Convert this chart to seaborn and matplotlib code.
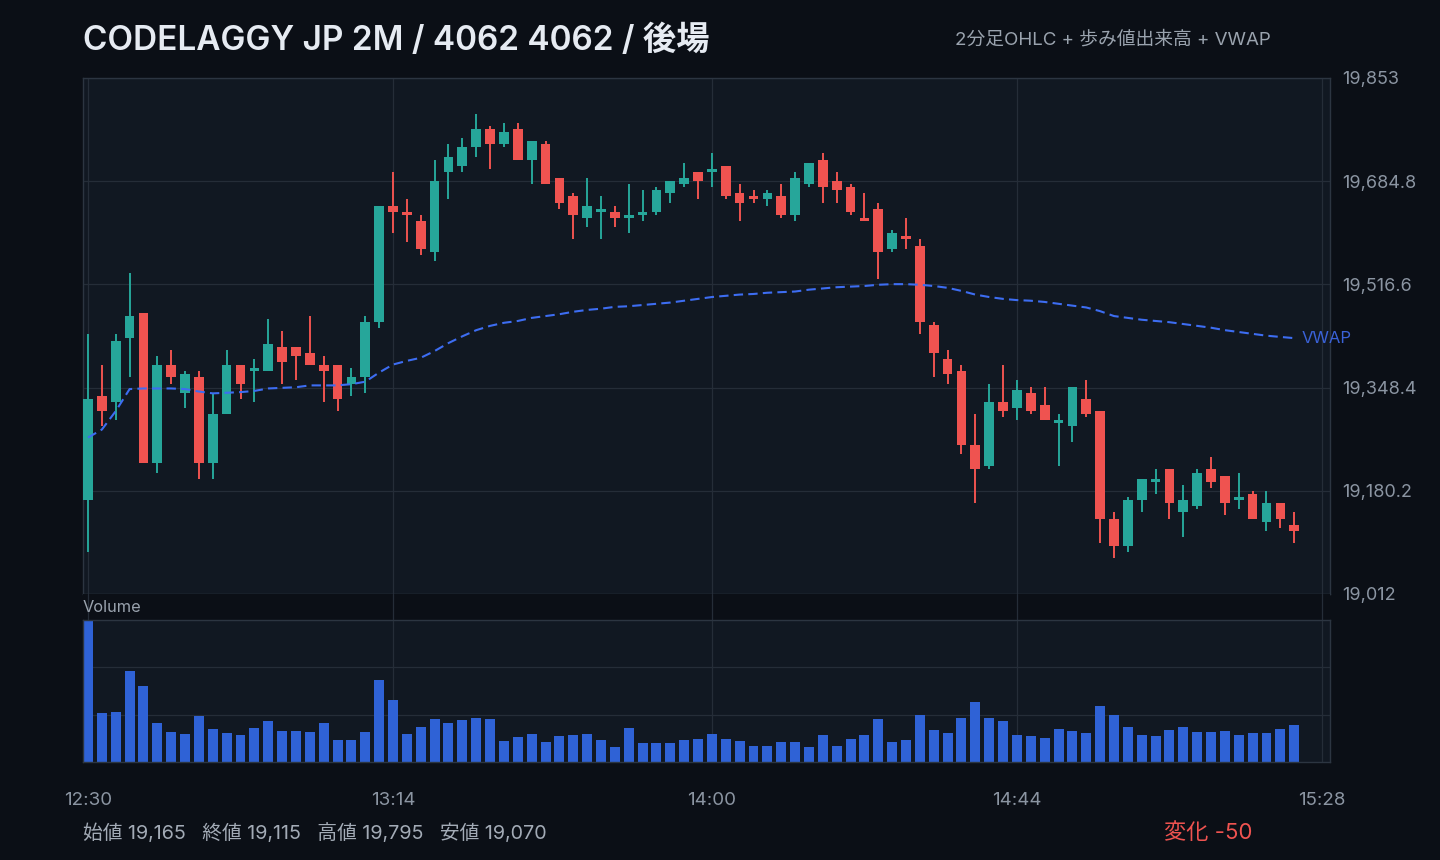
import numpy as np
import pandas as pd
import seaborn as sns
import matplotlib.pyplot as plt
from matplotlib.ticker import FuncFormatter

# 後場 2分足 (12:30〜) — 始値 / 高値 / 安値 / 終値
opens = [19165, 19335, 19325, 19430, 19470, 19225, 19385, 19340, 19365, 19225,
         19305, 19385, 19375, 19375, 19415, 19415, 19405, 19385, 19385, 19355,
         19365, 19455, 19645, 19635, 19620, 19570, 19700, 19710, 19740, 19770,
         19745, 19770, 19720, 19745, 19690, 19660, 19625, 19635, 19635, 19625,
         19630, 19635, 19665, 19680, 19700, 19700, 19710, 19665, 19660, 19655,
         19660, 19630, 19680, 19720, 19685, 19675, 19625, 19640, 19575, 19595,
         19580, 19450, 19395, 19375, 19255, 19220, 19325, 19315, 19340, 19320,
         19290, 19285, 19330, 19310, 19135, 19090, 19165, 19195, 19215, 19145,
         19155, 19215, 19205, 19165, 19175, 19130, 19160, 19125]
highs = [19435, 19385, 19435, 19535, 19470, 19400, 19410, 19375, 19375, 19340,
         19410, 19385, 19395, 19460, 19440, 19415, 19465, 19400, 19385, 19380,
         19465, 19645, 19700, 19655, 19630, 19720, 19745, 19755, 19795, 19775,
         19780, 19780, 19750, 19750, 19690, 19665, 19690, 19660, 19645, 19680,
         19670, 19675, 19685, 19715, 19700, 19730, 19710, 19680, 19670, 19670,
         19680, 19700, 19715, 19730, 19700, 19680, 19665, 19650, 19605, 19625,
         19590, 19455, 19410, 19385, 19305, 19355, 19385, 19360, 19350, 19350,
         19305, 19350, 19360, 19310, 19145, 19170, 19200, 19215, 19215, 19190,
         19215, 19235, 19205, 19210, 19180, 19180, 19160, 19145]
lows = [19080, 19285, 19295, 19365, 19225, 19210, 19355, 19315, 19200, 19200,
        19305, 19330, 19325, 19375, 19355, 19360, 19385, 19325, 19310, 19335,
        19340, 19445, 19600, 19585, 19565, 19555, 19655, 19700, 19725, 19705,
        19740, 19720, 19680, 19680, 19640, 19590, 19610, 19590, 19610, 19600,
        19620, 19630, 19650, 19675, 19655, 19675, 19655, 19620, 19650, 19645,
        19625, 19620, 19675, 19650, 19650, 19630, 19620, 19525, 19570, 19575,
        19435, 19365, 19355, 19240, 19160, 19215, 19300, 19295, 19305, 19295,
        19220, 19260, 19300, 19095, 19070, 19080, 19145, 19175, 19135, 19105,
        19150, 19185, 19140, 19150, 19135, 19115, 19120, 19095]
closes = [19330, 19310, 19425, 19465, 19225, 19385, 19365, 19370, 19225, 19305,
          19385, 19355, 19380, 19420, 19390, 19400, 19385, 19375, 19330, 19365,
          19455, 19645, 19635, 19630, 19575, 19685, 19725, 19740, 19770, 19745,
          19765, 19720, 19750, 19680, 19650, 19630, 19645, 19640, 19625, 19630,
          19635, 19670, 19685, 19690, 19685, 19705, 19660, 19650, 19655, 19665,
          19630, 19690, 19715, 19675, 19670, 19635, 19620, 19570, 19600, 19590,
          19455, 19405, 19370, 19255, 19215, 19325, 19310, 19345, 19310, 19295,
          19295, 19350, 19305, 19135, 19090, 19165, 19200, 19200, 19160, 19165,
          19210, 19195, 19160, 19170, 19135, 19160, 19135, 19115]

# 歩み値出来高 (百株)
volumes = [4200, 1460, 1490, 2700, 2260, 1140, 900, 840, 1370, 990,
           870, 790, 1020, 1200, 930, 930, 900, 1140, 640, 640,
           900, 2430, 1840, 840, 1050, 1260, 1140, 1230, 1290, 1260,
           610, 730, 840, 580, 760, 790, 840, 640, 430, 1020,
           550, 550, 550, 640, 670, 840, 670, 610, 460, 460,
           580, 580, 430, 810, 460, 670, 790, 1260, 580, 640,
           1400, 960, 870, 1310, 1760, 1310, 1200, 790, 760, 700,
           990, 930, 870, 1670, 1400, 1050, 790, 760, 960, 1050,
           900, 900, 930, 790, 870, 870, 990, 1080]

vwap = [19267, 19280, 19310, 19346, 19347, 19347, 19347, 19346, 19342, 19339,
        19340, 19341, 19343, 19347, 19348, 19349, 19352, 19352, 19352, 19354,
        19358, 19373, 19386, 19392, 19397, 19408, 19421, 19432, 19442, 19449,
        19454, 19457, 19462, 19465, 19468, 19472, 19475, 19477, 19480, 19481,
        19483, 19485, 19487, 19490, 19493, 19496, 19498, 19500, 19501, 19503,
        19504, 19505, 19508, 19510, 19512, 19513, 19514, 19516, 19517, 19517,
        19516, 19514, 19511, 19506, 19500, 19496, 19493, 19491, 19490, 19488,
        19485, 19482, 19479, 19473, 19465, 19462, 19459, 19457, 19455, 19452,
        19449, 19446, 19442, 19439, 19436, 19433, 19431, 19429]

session_start = "12:30"
bar_minutes = 2
xtick_labels = ["12:30", "13:14", "14:00", "14:44", "15:28"]

title = "CODELAGGY JP 2M / 4062 4062 / 後場"
subtitle = "2分足OHLC + 歩み値出来高 + VWAP"

# 色
BG = "#0b0f16"
PANEL = "#111822"
GRID = "#252d38"
EDGE = "#2c3541"
UP = "#26a69a"
DOWN = "#ef5350"
VOL = "#2f62d6"
VW = "#3d6df2"
TXT = "#e6ebf2"
SUB = "#9aa3ae"
TICK = "#8b95a2"

sns.set_theme(style="dark", rc={
    "figure.facecolor": BG,
    "axes.facecolor": PANEL,
    "axes.edgecolor": EDGE,
    "grid.color": GRID,
    "text.color": TXT,
    "xtick.color": TICK,
    "ytick.color": TICK,
})
plt.rcParams["font.family"] = ["Inter", "Noto Sans CJK JP", "DejaVu Sans"]


def to_min(s):
    h, m = s.split(":")
    return int(h) * 60 + int(m)


df = pd.DataFrame({"open": opens, "high": highs, "low": lows,
                   "close": closes, "volume": volumes, "vwap": vwap})
df["pos"] = np.arange(len(df))
df["color"] = np.where(df["close"] >= df["open"], UP, DOWN)
xticks = [(to_min(t) - to_min(session_start)) / bar_minutes for t in xtick_labels]

hi = df["high"].max()
lo = df["low"].min()
pad = (hi - lo) * 0.08

W, H = 1440, 860
fig = plt.figure(figsize=(14.4, 8.6), dpi=100)
ax = fig.add_axes([83 / W, 1 - 594 / H, 1247 / W, 516 / H])
gap = fig.add_axes([83 / W, 1 - 620 / H, 1247 / W, 26 / H], sharex=ax)
axv = fig.add_axes([83 / W, 1 - 762 / H, 1247 / W, 142 / H], sharex=ax)

# ローソク足
ax.vlines(df["pos"], df["low"], df["high"], colors=df["color"], lw=1.4, zorder=2)
body_lo = df[["open", "close"]].min(axis=1)
body_h = (df["close"] - df["open"]).abs().clip(lower=1.5)
ax.bar(df["pos"], body_h, bottom=body_lo, width=0.7, color=df["color"],
       linewidth=0, zorder=3)

# VWAP
sns.lineplot(x=df["pos"], y=df["vwap"], ax=ax, color=VW, lw=1.5,
             linestyle=(0, (4.5, 2.5)), zorder=4)
ax.text(df["pos"].iloc[-1] + 0.55, df["vwap"].iloc[-1], "VWAP", color="#3a62d8",
        fontsize=12, va="center", ha="left")

ax.set_xlim(-0.36, 89.58)
ax.set_ylim(lo - pad, hi + pad)
yt = np.linspace(lo - pad, hi + pad, 6)
ax.set_yticks(yt)
ax.yaxis.set_major_formatter(FuncFormatter(
    lambda v, p: f"{v:,.0f}" if round(v, 1) % 1 == 0 else f"{v:,.1f}"))
ax.yaxis.tick_right()
ax.tick_params(axis="y", length=0, pad=9, labelsize=13, labelcolor=TICK)
ax.tick_params(axis="x", length=0, labelbottom=False)
ax.set_xticks(xticks)
ax.grid(True, color=GRID, lw=0.9)
ax.set_xlabel("")
ax.set_ylabel("")

# 出来高
sns.barplot(x=df["pos"], y=df["volume"], ax=axv, native_scale=True, color=VOL,
            saturation=1, width=0.72, errorbar=None, linewidth=0)
vmax = df["volume"].max()
axv.set_ylim(0, vmax)
axv.set_yticks([vmax / 3, vmax * 2 / 3])
axv.tick_params(axis="y", length=0, labelleft=False)
axv.set_xlim(-0.36, 89.58)
axv.set_xticks(xticks)
axv.set_xticklabels(xtick_labels)
axv.tick_params(axis="x", length=0, pad=21.5, labelsize=13.5, labelcolor=TICK)
axv.grid(True, color=GRID, lw=0.9)
axv.set_xlabel("")
axv.set_ylabel("")

# 2つのパネルの間
gap.set_facecolor(BG)
for s in gap.spines.values():
    s.set_visible(False)
gap.set_yticks([])
gap.tick_params(axis="x", length=0, labelbottom=False)
gap.grid(True, axis="x", color=GRID, lw=0.9)
gap.text(0, 0.5, "Volume", transform=gap.transAxes, fontsize=11.8, color=SUB,
         va="center", ha="left")

for a in (ax, axv):
    for s in a.spines.values():
        s.set_color(EDGE)
        s.set_linewidth(1)

# タイトル・フッター
fig.text(83 / W, 1 - 41 / H, title, fontsize=24, fontweight="semibold",
         color=TXT, va="center", ha="left")
fig.text(955 / W, 1 - 40 / H, subtitle, fontsize=13.5, color=SUB,
         va="center", ha="left")

o0 = df["open"].iloc[0]
c1 = df["close"].iloc[-1]
footer = f"始値 {o0:,}   終値 {c1:,}   高値 {hi:,}   安値 {lo:,}"
fig.text(83 / W, 1 - 833 / H, footer, fontsize=14.2, color="#a3abb6",
         va="center", ha="left")
fig.text(1252 / W, 1 - 833 / H, f"変化 {c1 - o0:+,}".replace("+", ""),
         fontsize=16, color=DOWN, va="center", ha="right")

fig.savefig("out.png", dpi=100, facecolor=BG)
